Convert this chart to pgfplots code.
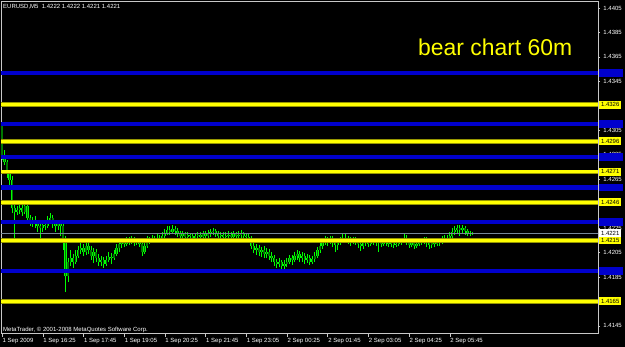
\documentclass[border=0pt]{standalone}
\usepackage{fontspec}
\setmainfont{Liberation Sans}
\usepackage{pgfplots}
\usepackage{pgfplotstable}
\pgfplotsset{compat=1.18}
\definecolor{mtyellow}{RGB}{255,255,0}
\definecolor{mtolive}{RGB}{150,150,0}
\definecolor{mtblue}{RGB}{0,0,205}
\definecolor{mtgray}{RGB}{119,136,153}
\definecolor{mtlime}{RGB}{0,255,0}
\definecolor{mtgreen}{RGB}{0,120,0}
\definecolor{frame}{RGB}{200,200,200}
\pgfplotstableread{
i o h l c
0 1.43093 1.43118 1.42807 1.42831
1 1.42831 1.42888 1.42766 1.42790
2 1.42790 1.42807 1.42659 1.42709
3 1.42709 1.42725 1.42602 1.42643
4 1.42643 1.42676 1.42373 1.42414
5 1.42414 1.42439 1.42152 1.42381
6 1.42381 1.42430 1.42357 1.42398
7 1.42398 1.42447 1.42365 1.42414
8 1.42414 1.42439 1.42349 1.42381
9 1.42381 1.42447 1.42365 1.42430
10 1.42430 1.42455 1.42300 1.42332
11 1.42332 1.42357 1.42267 1.42300
12 1.42300 1.42340 1.42259 1.42316
13 1.42316 1.42349 1.42250 1.42283
14 1.42283 1.42316 1.42218 1.42267
15 1.42267 1.42300 1.42152 1.42250
16 1.42250 1.42300 1.42218 1.42275
17 1.42275 1.42308 1.42234 1.42267
18 1.42267 1.42349 1.42250 1.42316
19 1.42316 1.42373 1.42283 1.42332
20 1.42332 1.42357 1.42250 1.42283
21 1.42283 1.42316 1.42218 1.42267
22 1.42267 1.42308 1.42234 1.42283
23 1.42283 1.42316 1.42185 1.42267
24 1.42267 1.42291 1.42070 1.42152
25 1.42152 1.42185 1.41727 1.41858
26 1.41858 1.42005 1.41809 1.41972
27 1.41972 1.42070 1.41940 1.42005
28 1.42005 1.42038 1.41923 1.41972
29 1.41972 1.42070 1.41956 1.42021
30 1.42021 1.42103 1.42005 1.42070
31 1.42070 1.42128 1.42038 1.42087
32 1.42087 1.42119 1.42021 1.42054
33 1.42054 1.42128 1.42030 1.42103
34 1.42103 1.42136 1.42038 1.42070
35 1.42070 1.42103 1.41989 1.42021
36 1.42021 1.42087 1.41964 1.42054
37 1.42054 1.42079 1.41972 1.42005
38 1.42005 1.42038 1.41940 1.41972
39 1.41972 1.42021 1.41940 1.41989
40 1.41989 1.42013 1.41923 1.41956
41 1.41956 1.42021 1.41940 1.41989
42 1.41989 1.42054 1.41972 1.42013
43 1.42013 1.42046 1.41956 1.42005
44 1.42005 1.42070 1.41989 1.42038
45 1.42038 1.42119 1.42021 1.42087
46 1.42087 1.42152 1.42054 1.42119
47 1.42119 1.42169 1.42087 1.42136
48 1.42136 1.42169 1.42095 1.42119
49 1.42119 1.42177 1.42103 1.42144
50 1.42144 1.42177 1.42111 1.42136
51 1.42136 1.42185 1.42119 1.42152
52 1.42152 1.42177 1.42103 1.42136
53 1.42136 1.42169 1.42111 1.42144
54 1.42144 1.42169 1.42095 1.42119
55 1.42119 1.42152 1.42021 1.42054
56 1.42054 1.42128 1.42038 1.42103
57 1.42103 1.42185 1.42087 1.42152
58 1.42152 1.42177 1.42119 1.42144
59 1.42144 1.42193 1.42128 1.42160
60 1.42160 1.42185 1.42128 1.42152
61 1.42152 1.42201 1.42136 1.42169
62 1.42169 1.42193 1.42136 1.42160
63 1.42160 1.42218 1.42152 1.42185
64 1.42185 1.42242 1.42169 1.42209
65 1.42209 1.42267 1.42193 1.42234
66 1.42234 1.42267 1.42193 1.42218
67 1.42218 1.42275 1.42201 1.42242
68 1.42242 1.42267 1.42193 1.42226
69 1.42226 1.42250 1.42177 1.42201
70 1.42201 1.42226 1.42160 1.42185
71 1.42185 1.42226 1.42169 1.42201
72 1.42201 1.42218 1.42152 1.42177
73 1.42177 1.42218 1.42160 1.42193
74 1.42193 1.42209 1.42160 1.42185
75 1.42185 1.42209 1.42152 1.42169
76 1.42169 1.42209 1.42152 1.42185
77 1.42185 1.42218 1.42160 1.42193
78 1.42193 1.42218 1.42152 1.42177
79 1.42177 1.42226 1.42160 1.42201
80 1.42201 1.42226 1.42160 1.42185
81 1.42185 1.42234 1.42169 1.42201
82 1.42201 1.42242 1.42177 1.42218
83 1.42218 1.42250 1.42193 1.42226
84 1.42226 1.42242 1.42177 1.42201
85 1.42201 1.42226 1.42160 1.42185
86 1.42185 1.42218 1.42169 1.42193
87 1.42193 1.42218 1.42152 1.42177
88 1.42177 1.42218 1.42160 1.42185
89 1.42185 1.42226 1.42169 1.42193
90 1.42193 1.42218 1.42152 1.42177
91 1.42177 1.42226 1.42160 1.42201
92 1.42201 1.42218 1.42160 1.42185
93 1.42185 1.42226 1.42169 1.42193
94 1.42193 1.42234 1.42169 1.42201
95 1.42201 1.42218 1.42160 1.42185
96 1.42185 1.42209 1.42152 1.42177
97 1.42177 1.42201 1.42136 1.42160
98 1.42160 1.42185 1.42079 1.42103
99 1.42103 1.42128 1.42046 1.42070
100 1.42070 1.42119 1.42030 1.42087
101 1.42087 1.42111 1.42021 1.42054
102 1.42054 1.42095 1.42013 1.42070
103 1.42070 1.42103 1.42005 1.42038
104 1.42038 1.42087 1.42005 1.42054
105 1.42054 1.42079 1.41989 1.42021
106 1.42021 1.42054 1.41972 1.42005
107 1.42005 1.42030 1.41940 1.41972
108 1.41972 1.41997 1.41923 1.41956
109 1.41956 1.42005 1.41931 1.41972
110 1.41972 1.41989 1.41907 1.41940
111 1.41940 1.41989 1.41907 1.41956
112 1.41956 1.42005 1.41931 1.41972
113 1.41972 1.42030 1.41956 1.42005
114 1.42005 1.42030 1.41948 1.41989
115 1.41989 1.42054 1.41972 1.42021
116 1.42021 1.42070 1.41989 1.42038
117 1.42038 1.42062 1.41972 1.42005
118 1.42005 1.42054 1.41972 1.42021
119 1.42021 1.42046 1.41956 1.41989
120 1.41989 1.42038 1.41964 1.42005
121 1.42005 1.42030 1.41948 1.41972
122 1.41972 1.42021 1.41956 1.41997
123 1.41997 1.42054 1.41972 1.42021
124 1.42021 1.42095 1.42005 1.42070
125 1.42070 1.42136 1.42046 1.42103
126 1.42103 1.42169 1.42079 1.42136
127 1.42136 1.42185 1.42111 1.42152
128 1.42152 1.42177 1.42103 1.42136
129 1.42136 1.42185 1.42119 1.42160
130 1.42160 1.42185 1.42095 1.42144
131 1.42144 1.42169 1.42054 1.42111
132 1.42111 1.42160 1.42070 1.42136
133 1.42136 1.42177 1.42111 1.42152
134 1.42152 1.42201 1.42128 1.42169
135 1.42169 1.42209 1.42136 1.42160
136 1.42160 1.42185 1.42119 1.42152
137 1.42152 1.42177 1.42103 1.42136
138 1.42136 1.42177 1.42119 1.42152
139 1.42152 1.42177 1.42111 1.42144
140 1.42144 1.42169 1.42087 1.42119
141 1.42119 1.42152 1.42062 1.42103
142 1.42103 1.42152 1.42079 1.42128
143 1.42128 1.42160 1.42103 1.42136
144 1.42136 1.42160 1.42095 1.42119
145 1.42119 1.42160 1.42103 1.42136
146 1.42136 1.42169 1.42111 1.42144
147 1.42144 1.42169 1.42103 1.42128
148 1.42128 1.42160 1.42054 1.42136
149 1.42136 1.42169 1.42095 1.42119
150 1.42119 1.42160 1.42103 1.42136
151 1.42136 1.42160 1.42103 1.42128
152 1.42128 1.42152 1.42095 1.42119
153 1.42119 1.42152 1.42095 1.42128
154 1.42128 1.42152 1.42087 1.42111
155 1.42111 1.42144 1.42095 1.42119
156 1.42119 1.42152 1.42103 1.42128
157 1.42128 1.42160 1.42111 1.42136
158 1.42136 1.42209 1.42128 1.42169
159 1.42169 1.42193 1.42111 1.42136
160 1.42136 1.42152 1.42087 1.42111
161 1.42111 1.42152 1.42095 1.42128
162 1.42128 1.42144 1.42079 1.42103
163 1.42103 1.42144 1.42087 1.42119
164 1.42119 1.42169 1.42103 1.42144
165 1.42144 1.42169 1.42111 1.42136
166 1.42136 1.42177 1.42119 1.42152
167 1.42152 1.42177 1.42095 1.42128
168 1.42128 1.42144 1.42079 1.42111
169 1.42111 1.42152 1.42087 1.42128
170 1.42128 1.42152 1.42095 1.42119
171 1.42119 1.42160 1.42103 1.42136
172 1.42136 1.42169 1.42103 1.42128
173 1.42128 1.42185 1.42119 1.42152
174 1.42152 1.42193 1.42136 1.42169
175 1.42169 1.42193 1.42128 1.42160
176 1.42160 1.42218 1.42144 1.42185
177 1.42185 1.42250 1.42169 1.42218
178 1.42218 1.42267 1.42193 1.42234
179 1.42234 1.42275 1.42209 1.42250
180 1.42250 1.42275 1.42185 1.42234
181 1.42234 1.42275 1.42209 1.42250
182 1.42250 1.42267 1.42193 1.42226
183 1.42226 1.42242 1.42185 1.42209
184 1.42209 1.42226 1.42185 1.42201
185 1.42201 1.42218 1.42193 1.42210
}\bars
\newcommand{\sm}{\fontsize{6}{7}\selectfont}
\pgfplotsset{candle/.style={only marks, mark=*, mark size=0pt,
  mark options={draw opacity=0, fill opacity=0},
  error bars/.cd, y dir=plus, y explicit, error mark=none}}
\begin{document}
\begin{tikzpicture}
\path[use as bounding box] (0pt,0pt) rectangle (625pt,347pt);
\fill[black] (0pt,0pt) rectangle (625pt,347pt);
\begin{axis}[
  at={(1pt,14pt)}, anchor=south west, scale only axis,
  width=597pt, height=332pt,
  xmin=-0.39, xmax=234.3, ymin=1.41392, ymax=1.44107,
  clip=false,
  axis line style={draw=frame, line width=0.8pt},
  tick align=outside,
  ytick pos=right, yticklabel pos=right,
  xtick pos=left, xticklabel pos=left,
  xtick={0,16,...,176},
  xticklabels={1 Sep 2009,1 Sep 16:25,1 Sep 17:45,1 Sep 19:05,1 Sep 20:25,1 Sep 21:45,1 Sep 23:05,2 Sep 00:25,2 Sep 01:45,2 Sep 03:05,2 Sep 04:25,2 Sep 05:45},
  ytick={1.4145,1.4185,1.4205,1.4225,1.4265,1.4285,1.4305,1.4345,1.4365,1.4385,1.4405},
  xtick style={draw=frame, /pgfplots/major tick length=4pt},
  ytick style={draw=frame, /pgfplots/major tick length=2pt},
  xticklabel style={font=\sm, text=white, anchor=north west, inner sep=0.5pt},
  yticklabel style={font=\sm, text=white, anchor=west, inner sep=1pt},
  /pgf/number format/fixed, /pgf/number format/fixed zerofill,
  /pgf/number format/precision=4, /pgf/number format/assume math mode=true,
  scaled y ticks=false,
]
% wicks
\addplot[color=mtlime, candle, error bar style={line width=0.8pt, line cap=butt}]
  table[x=i, y=l, y error plus expr={\thisrow{h}-\thisrow{l}}] {\bars};
% bodies outline
\addplot[color=mtlime, candle, error bar style={line width=2.3pt, line cap=butt}]
  table[x=i, y expr={min(\thisrow{o},\thisrow{c})}, y error plus expr={abs(\thisrow{c}-\thisrow{o})}] {\bars};
% bodies fill
\addplot[color=mtgreen, candle, error bar style={line width=1.3pt, line cap=butt}]
  table[x=i, y expr={min(\thisrow{o},\thisrow{c})}, y error plus expr={abs(\thisrow{c}-\thisrow{o})}] {\bars};
% blue lines
\addplot[mtblue, line width=4.5pt] coordinates {(-0.39,1.4352) (234.3,1.4352)};
\addplot[mtblue, line width=4.5pt] coordinates {(-0.39,1.4310) (234.3,1.4310)};
\addplot[mtblue, line width=4.5pt] coordinates {(-0.39,1.4283) (234.3,1.4283)};
\addplot[mtblue, line width=4.5pt] coordinates {(-0.39,1.4258) (234.3,1.4258)};
\addplot[mtblue, line width=4.5pt] coordinates {(-0.39,1.4230) (234.3,1.4230)};
\addplot[mtblue, line width=4.5pt] coordinates {(-0.39,1.4190) (234.3,1.4190)};
% current price
\addplot[mtgray, line width=0.8pt] coordinates {(-0.39,1.4221) (234.3,1.4221)};
% yellow lines
\addplot[mtolive, line width=4.5pt] coordinates {(-0.39,1.4326) (234.3,1.4326)};
\addplot[mtolive, line width=4.5pt] coordinates {(-0.39,1.4296) (234.3,1.4296)};
\addplot[mtolive, line width=4.5pt] coordinates {(-0.39,1.4271) (234.3,1.4271)};
\addplot[mtolive, line width=4.5pt] coordinates {(-0.39,1.4246) (234.3,1.4246)};
\addplot[mtolive, line width=4.5pt] coordinates {(-0.39,1.4215) (234.3,1.4215)};
\addplot[mtolive, line width=4.5pt] coordinates {(-0.39,1.4165) (234.3,1.4165)};
\addplot[mtyellow, line width=3pt] coordinates {(-0.39,1.4326) (234.3,1.4326)};
\addplot[mtyellow, line width=3pt] coordinates {(-0.39,1.4296) (234.3,1.4296)};
\addplot[mtyellow, line width=3pt] coordinates {(-0.39,1.4271) (234.3,1.4271)};
\addplot[mtyellow, line width=3pt] coordinates {(-0.39,1.4246) (234.3,1.4246)};
\addplot[mtyellow, line width=3pt] coordinates {(-0.39,1.4215) (234.3,1.4215)};
\addplot[mtyellow, line width=3pt] coordinates {(-0.39,1.4165) (234.3,1.4165)};
\coordinate (b1) at (axis cs:234.3,1.4352);
\coordinate (b2) at (axis cs:234.3,1.4310);
\coordinate (b3) at (axis cs:234.3,1.4283);
\coordinate (b4) at (axis cs:234.3,1.4258);
\coordinate (b5) at (axis cs:234.3,1.4230);
\coordinate (b6) at (axis cs:234.3,1.4190);
\coordinate (y1) at (axis cs:234.3,1.4326);
\coordinate (y2) at (axis cs:234.3,1.4296);
\coordinate (y3) at (axis cs:234.3,1.4271);
\coordinate (y4) at (axis cs:234.3,1.4246);
\coordinate (y5) at (axis cs:234.3,1.4215);
\coordinate (y6) at (axis cs:234.3,1.4165);
\coordinate (cur) at (axis cs:234.3,1.4221);
\end{axis}
\foreach \n in {b1,b2,b3,b4,b5,b6}
  \node[fill=mtblue, anchor=west, xshift=1pt, minimum width=24pt, minimum height=7.5pt, inner sep=0pt] at (\n) {};
\foreach \n/\t in {y1/1.4326,y2/1.4296,y3/1.4271,y4/1.4246,y5/1.4215,y6/1.4165}
  \node[fill=mtyellow, text=black, anchor=west, xshift=1pt, minimum width=22pt, minimum height=8pt, inner sep=0pt, font=\sm] at (\n) {\t};
\node[fill=white, text=black, anchor=west, xshift=1pt, minimum width=22pt, minimum height=7.5pt, inner sep=0pt, font=\sm] at (cur) {1.4221};
\node[anchor=base west, inner sep=0pt, text=white, font=\sm] at (3pt,338.5pt) {EURUSD,M5\ \ 1.4222 1.4222 1.4221 1.4221};
\node[anchor=base west, inner sep=0pt, text=white, font=\sm] at (3pt,15.8pt) {MetaTrader, © 2001-2008 MetaQuotes Software Corp.};
\node[anchor=base west, inner sep=0pt, text=mtyellow, font=\fontsize{22.9}{26}\selectfont] at (418pt,291pt) {bear chart 60m};
\end{tikzpicture}
\end{document}
